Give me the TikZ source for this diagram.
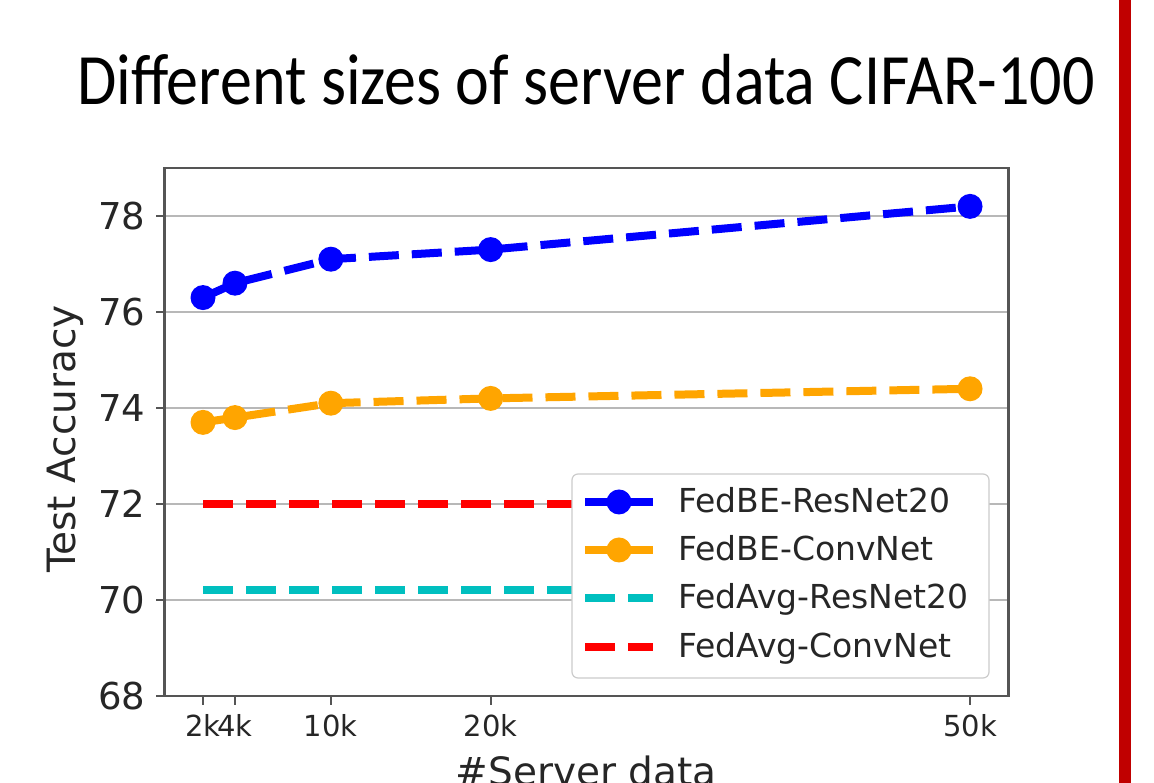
\documentclass[tikz,border=0pt]{standalone}
\usepackage{fontspec}
\usepackage{graphicx}
\newfontfamily\plotfont{DejaVu Sans}
\newfontfamily\slidefont{Carlito}
\definecolor{mplblue}{HTML}{0000FF}
\definecolor{mplorange}{HTML}{FFA500}
\definecolor{mplcyan}{HTML}{00BFBF}
\definecolor{mplred}{HTML}{FF0000}
\definecolor{slidered}{HTML}{C00000}
\definecolor{gridgray}{HTML}{B8B8B8}
\definecolor{spinegray}{HTML}{555555}
\definecolor{labelgray}{HTML}{262626}
\begin{document}
\begin{tikzpicture}[x=1pt,y=1pt,
  series/.style={line width=8pt, dash pattern=on 30pt off 13pt},
  dot/.style={circle, fill=#1, draw=none, inner sep=0pt, minimum size=25pt},
  gridline/.style={gridgray, line width=1.6pt},
  spine/.style={spinegray, line width=2.5pt},
  tickmark/.style={spinegray, line width=2pt},
  yticklabel/.style={font=\plotfont\fontsize{37}{37}\selectfont, text=labelgray, inner sep=0pt, anchor=east, xshift=-19pt},
  xticklabel/.style={font=\plotfont\fontsize{29}{29}\selectfont, text=labelgray, inner sep=0pt, anchor=north, yshift=-18pt},
  axislabel/.style={font=\plotfont\fontsize{39}{39}\selectfont, text=labelgray, inner sep=0pt},
  legendtext/.style={font=\plotfont\fontsize{33}{33}\selectfont, text=labelgray, inner sep=0pt, anchor=base west},
  legendframe/.style={draw=black!20, line width=1.2pt, fill=white, rounded corners=6pt, inner sep=0pt},
]
\useasboundingbox (0,0) rectangle (1154,783);
\fill[white] (0,0) rectangle (1154,783);

% slide title and red divider
\node[anchor=base west, inner sep=0pt, font=\slidefont\fontsize{64}{64}\selectfont] (title) at (77,678)
  {\scalebox{1}[1.13]{Different sizes of server data CIFAR-100}};
\fill[slidered] (1119,0) rectangle (1131,783);

% plot area in data units: x in thousands of samples, y in accuracy
\begin{scope}[shift={(171.04pt,-3177pt)}, x=15.98pt, y=48pt]
  % horizontal grid
  \foreach \v in {70,72,74,76,78}
    \draw[gridline] (-0.4,\v) -- (52.4,\v);

  % baselines
  \coordinate (ar0) at (2,72);   \coordinate (ar1) at (50,72);
  \coordinate (ac0) at (2,70.2); \coordinate (ac1) at (50,70.2);
  \draw[series, mplred]  (ar0) -- (ar1);
  \draw[series, mplcyan] (ac0) -- (ac1);

  % FedBE-ConvNet
  \coordinate (o1) at (2,73.7);
  \coordinate (o2) at (4,73.8);
  \coordinate (o3) at (10,74.1);
  \coordinate (o4) at (20,74.2);
  \coordinate (o5) at (50,74.4);
  \draw[series, mplorange] (o1) -- (o2) -- (o3) -- (o4) -- (o5);
  \foreach \p in {o1,o2,o3,o4,o5}
    \node[dot=mplorange] (\p m) at (\p) {};

  % FedBE-ResNet20
  \coordinate (b1) at (2,76.3);
  \coordinate (b2) at (4,76.6);
  \coordinate (b3) at (10,77.1);
  \coordinate (b4) at (20,77.3);
  \coordinate (b5) at (50,78.2);
  \draw[series, mplblue] (b1) -- (b2) -- (b3) -- (b4) -- (b5);
  \foreach \p in {b1,b2,b3,b4,b5}
    \node[dot=mplblue] (\p m) at (\p) {};

  % frame
  \draw[spine] (-0.4,68) rectangle (52.4,79);

  % y ticks
  \foreach \v in {68,70,72,74,76,78} {
    \draw[tickmark] (-0.4,\v) -- ++(-9pt,0);
    \node[yticklabel] (yt\v) at (-0.4,\v) {\v};
  }
  % x ticks
  \foreach \k in {2,4,10,20,50} {
    \draw[tickmark] (\k,68) -- ++(0,-9pt);
    \node[xticklabel] (xt\k) at (\k,68) {\k k};
  }
\end{scope}

% axis titles
\node[axislabel, anchor=base] (xlab) at (586,-3) {\#Server data};
\node[axislabel, anchor=base, rotate=90] (ylab) at (75,344) {Test Accuracy};

% legend
\node[legendframe, minimum width=417pt, minimum height=204pt] (legend) at (780.5,207) {};
\coordinate (l1a) at (585,281); \coordinate (l1b) at (653,281);
\coordinate (l2a) at (585,233); \coordinate (l2b) at (653,233);
\coordinate (l3a) at (585,185); \coordinate (l3b) at (653,185);
\coordinate (l4a) at (585,136); \coordinate (l4b) at (653,136);
\draw[series, mplblue, solid] (l1a) -- (l1b);
\node[dot=mplblue] (l1m) at (619,281) {};
\draw[series, mplorange, solid] (l2a) -- (l2b);
\node[dot=mplorange] (l2m) at (619,233) {};
\draw[series, mplcyan] (l3a) -- (l3b);
\draw[series, mplred] (l4a) -- (l4b);
\node[legendtext] (t1) at (678,270) {FedBE-ResNet20};
\node[legendtext] (t2) at (678,222) {FedBE-ConvNet};
\node[legendtext] (t3) at (678,174) {FedAvg-ResNet20};
\node[legendtext] (t4) at (678,125) {FedAvg-ConvNet};
\end{tikzpicture}
\end{document}
